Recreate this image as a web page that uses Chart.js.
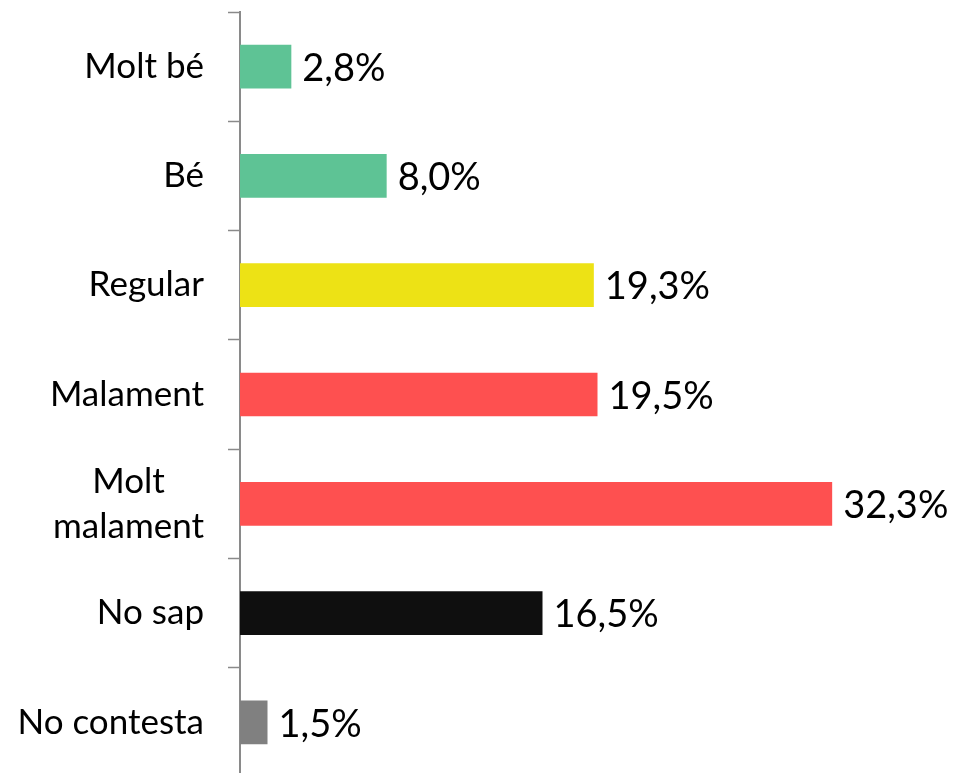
<!DOCTYPE html>
<html>
<head>
<meta charset="utf-8">
<script src="https://cdn.jsdelivr.net/npm/chart.js@4.4.1/dist/chart.umd.min.js"></script>
<style>
  html, body { margin: 0; padding: 0; background: #ffffff; overflow: hidden; }
  #wrap { width: 967px; height: 790px; position: relative; }
</style>
</head>
<body>
<div id="wrap"><canvas id="chart"></canvas></div>
<script>
// Survey answers and their shares (%)
const categories = ['Molt bé', 'Bé', 'Regular', 'Malament', ['Molt', 'malament'], 'No sap', 'No contesta'];
const shares = [2.8, 8.0, 19.3, 19.5, 32.3, 16.5, 1.5];
const barColors = ['#5ec395', '#5ec395', '#ede215', '#fe5050', '#fe5050', '#0f0f0f', '#808080'];

const FONT = 'Lato, "Open Sans", sans-serif';
const LABEL_SIZE = 35;
const LABEL_LINE = 45;
const LABEL_GAP = 36; // from axis line to the right edge of the category text

// Category names: block right-aligned against the axis, lines centred within the block
const categoryLabels = {
  id: 'categoryLabels',
  afterDraw(chart) {
    const { ctx } = chart;
    const y = chart.scales.y;
    ctx.save();
    ctx.font = LABEL_SIZE + 'px ' + FONT;
    ctx.fillStyle = '#000000';
    ctx.textAlign = 'center';
    ctx.textBaseline = 'middle';
    categories.forEach((cat, i) => {
      const lines = Array.isArray(cat) ? cat : [cat];
      const w = Math.max(...lines.map(l => ctx.measureText(l).width));
      const cx = y.right - LABEL_GAP - w / 2;
      const cy = y.getPixelForValue(i);
      lines.forEach((l, k) => {
        ctx.fillText(l, cx, cy + (k - (lines.length - 1) / 2) * LABEL_LINE);
      });
    });
    ctx.restore();
  }
};

// Writes each bar's value just past its end, with a decimal comma
const valueLabels = {
  id: 'valueLabels',
  afterDatasetsDraw(chart) {
    const { ctx } = chart;
    const meta = chart.getDatasetMeta(0);
    ctx.save();
    ctx.font = '38px ' + FONT;
    ctx.fillStyle = '#000000';
    ctx.textAlign = 'left';
    ctx.textBaseline = 'middle';
    meta.data.forEach((bar, i) => {
      const txt = shares[i].toFixed(1).replace('.', ',') + '%';
      ctx.fillText(txt, bar.x + 11, bar.y + 2);
    });
    ctx.restore();
  }
};

new Chart(document.getElementById('chart'), {
  type: 'bar',
  data: {
    labels: categories,
    datasets: [{
      data: shares,
      backgroundColor: barColors,
      borderWidth: 0,
      barPercentage: 0.4,
      categoryPercentage: 1.0
    }]
  },
  options: {
    indexAxis: 'y',
    responsive: true,
    maintainAspectRatio: false,
    animation: false,
    layout: { padding: { top: 12, right: 12, bottom: 13, left: 0 } },
    plugins: {
      legend: { display: false },
      tooltip: { enabled: false },
      title: { display: false }
    },
    scales: {
      x: {
        display: false,
        min: 0,
        max: 39
      },
      y: {
        afterFit(scale) {
          scale.width = 240;
          scale.paddingTop = 0;
          scale.paddingBottom = 0;
        },
        border: { display: true, color: '#8a8a8a', width: 2 },
        grid: {
          offset: true,
          drawOnChartArea: false,
          drawTicks: true,
          tickLength: 12,
          tickColor: '#8a8a8a',
          tickWidth: 1.5
        },
        ticks: { display: false }
      }
    }
  },
  plugins: [categoryLabels, valueLabels]
});
</script>
</body>
</html>
